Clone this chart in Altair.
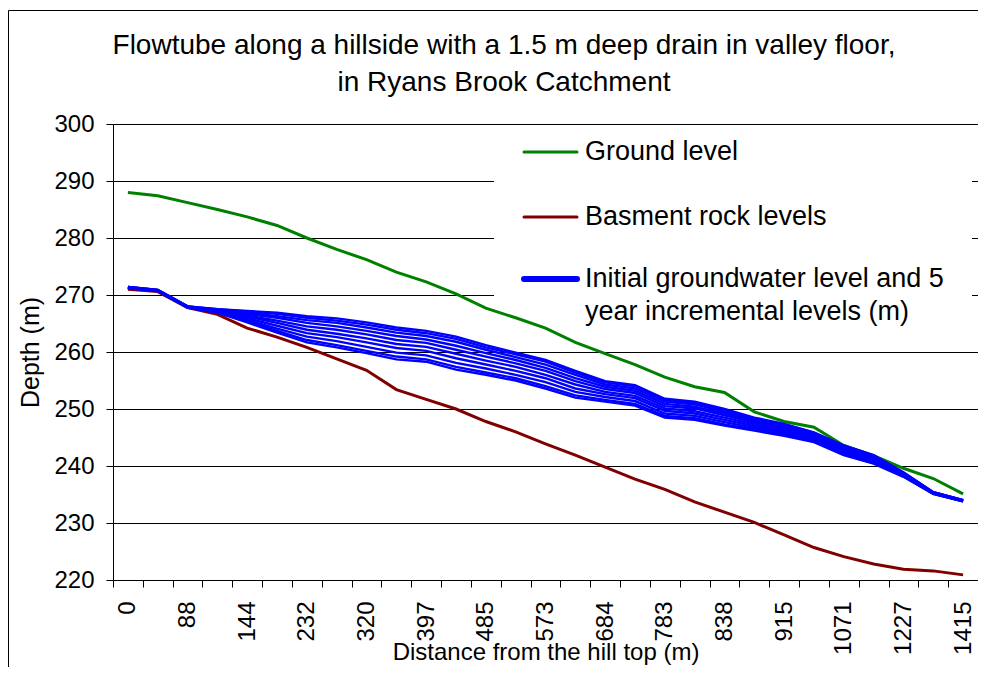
import altair as alt
import pandas as pd

# Distance from the hill top (m) for each node of the flowtube (categories)
distances = [0, 44, 88, 116, 144, 188, 232, 276, 320, 358, 397, 441, 485, 529, 573,
             628, 684, 733, 783, 810, 838, 876, 915, 993, 1071, 1149, 1227, 1321, 1415]
labelled = [0, 88, 144, 232, 320, 397, 485, 573, 684, 783, 838, 915, 1071, 1227, 1415]

ground = [288.0, 287.4, 286.2, 285.0, 283.7, 282.2, 280.0, 278.0, 276.2, 274.0, 272.3,
          270.2, 267.7, 266.0, 264.2, 261.7, 259.7, 257.8, 255.6, 253.9, 252.9, 249.5,
          247.8, 246.8, 243.6, 241.8, 239.6, 237.8, 235.1]
basement = [271.0, 270.6, 267.8, 266.6, 264.2, 262.6, 260.8, 258.8, 256.8, 253.4, 251.7,
            250.0, 247.8, 246.0, 243.9, 241.9, 239.8, 237.7, 235.9, 233.7, 231.9, 230.1,
            227.9, 225.7, 224.1, 222.8, 221.9, 221.6, 220.9]

# groundwater: initial level and 5-year incremental levels
gw_year00 = [271.4, 270.9, 268.0, 267.5, 267.2, 266.9, 266.3, 265.9, 265.2, 264.3, 263.7, 262.7, 261.2, 259.9, 258.6,
             256.7, 254.9, 254.2, 251.8, 251.3, 250.0, 248.5, 247.4, 245.9, 243.6, 241.9, 238.9, 235.4, 234.0]
gw_year05 = [271.4, 270.9, 268.0, 267.5, 267.1, 266.7, 266.0, 265.5, 264.8, 263.9, 263.3, 262.3, 260.8, 259.6, 258.3,
             256.4, 254.7, 254.0, 251.6, 251.1, 249.8, 248.3, 247.3, 245.8, 243.5, 241.8, 238.8, 235.4, 234.0]
gw_year10 = [271.4, 270.9, 268.0, 267.4, 266.9, 266.3, 265.6, 265.1, 264.3, 263.4, 262.8, 261.8, 260.4, 259.1, 257.8,
             256.0, 254.3, 253.6, 251.3, 250.8, 249.5, 248.1, 247.1, 245.6, 243.3, 241.7, 238.8, 235.4, 234.0]
gw_year15 = [271.3, 270.8, 267.9, 267.3, 266.7, 266.0, 265.1, 264.5, 263.7, 262.8, 262.2, 261.1, 259.8, 258.6, 257.2,
             255.4, 253.9, 253.2, 250.9, 250.4, 249.2, 247.9, 246.8, 245.4, 243.1, 241.5, 238.7, 235.3, 233.9]
gw_year20 = [271.3, 270.8, 267.9, 267.3, 266.4, 265.5, 264.5, 263.9, 263.1, 262.1, 261.6, 260.4, 259.2, 258.0, 256.7,
             254.9, 253.5, 252.8, 250.5, 250.1, 248.9, 247.6, 246.6, 245.2, 242.9, 241.3, 238.6, 235.3, 233.9]
gw_year25 = [271.3, 270.8, 267.9, 267.2, 266.2, 265.1, 263.9, 263.2, 262.4, 261.4, 260.9, 259.7, 258.5, 257.4, 256.0,
             254.3, 253.0, 252.3, 250.1, 249.6, 248.5, 247.3, 246.3, 245.0, 242.7, 241.1, 238.5, 235.2, 233.9]
gw_year30 = [271.3, 270.8, 267.9, 267.1, 265.9, 264.6, 263.3, 262.6, 261.7, 260.7, 260.2, 258.9, 257.8, 256.7, 255.4,
             253.6, 252.6, 251.9, 249.7, 249.2, 248.1, 247.0, 246.0, 244.8, 242.5, 240.9, 238.4, 235.2, 233.9]
gw_year35 = [271.2, 270.7, 267.8, 267.0, 265.6, 264.1, 262.7, 261.9, 260.9, 259.9, 259.4, 258.1, 257.1, 256.0, 254.7,
             253.0, 252.1, 251.4, 249.2, 248.8, 247.7, 246.7, 245.7, 244.6, 242.3, 240.7, 238.3, 235.2, 233.8]
gw_year40 = [271.2, 270.7, 267.8, 266.9, 265.4, 263.7, 262.1, 261.2, 260.2, 259.2, 258.7, 257.4, 256.4, 255.4, 254.0,
             252.4, 251.6, 250.9, 248.8, 248.4, 247.3, 246.4, 245.5, 244.3, 242.0, 240.5, 238.2, 235.1, 233.8]
gw_year45 = [271.2, 270.7, 267.8, 266.9, 265.2, 263.4, 261.7, 260.8, 259.8, 258.7, 258.3, 256.9, 256.0, 255.0, 253.6,
             252.0, 251.3, 250.6, 248.5, 248.1, 247.1, 246.2, 245.3, 244.2, 241.9, 240.4, 238.1, 235.1, 233.8]

gw_series = {"GW 0": gw_year00, "GW 5": gw_year05, "GW 10": gw_year10, "GW 15": gw_year15,
             "GW 20": gw_year20, "GW 25": gw_year25, "GW 30": gw_year30, "GW 35": gw_year35,
             "GW 40": gw_year40, "GW 45": gw_year45}

title_lines = ["Flowtube along a hillside with a 1.5 m deep drain in valley floor,",
               "in Ryans Brook Catchment"]

FONT = "Liberation Sans"
W, H = 865, 456

ground_df = pd.DataFrame({"dist": distances, "value": ground})
base_df = pd.DataFrame({"dist": distances, "value": basement})
gw_df = pd.concat([pd.DataFrame({"dist": distances, "value": v, "series": k})
                   for k, v in gw_series.items()], ignore_index=True)

label_expr = "indexof(" + str(labelled) + ", datum.value) >= 0 ? datum.label : ''"

x_enc = alt.X("dist:O", sort=None, bandPosition=0.5,
              scale=alt.Scale(type="band", domain=distances, paddingInner=0, paddingOuter=0),
              axis=alt.Axis(title="Distance from the hill top (m)", tickBand="extent",
                            labelAngle=-90, labelExpr=label_expr, labelPadding=14,
                            titleY=72, titleBaseline="middle", titleFontSize=24, grid=False))
y_enc = alt.Y("value:Q", scale=alt.Scale(domain=[220, 300], nice=False, zero=False),
              axis=alt.Axis(title="Depth (m)", values=list(range(220, 301, 10)),
                            grid=True, gridColor="black", gridWidth=1,
                            labelPadding=12, titlePadding=10))

one = alt.Data(values=[{}])

border_left = alt.Chart(one).mark_rule(color="black", strokeWidth=1).encode(
    x=alt.value(-104.5), y=alt.value(-113.5), y2=alt.value(H + 300))
border_top = alt.Chart(one).mark_rule(color="black", strokeWidth=1).encode(
    x=alt.value(-104.5), x2=alt.value(W + 4), y=alt.value(-113.5))

title_text = alt.Chart(one).mark_text(font=FONT, fontSize=28, align="center", baseline="middle",
                                      color="black", lineHeight=37).encode(
    x=alt.value(391), y=alt.value(-78), text=alt.value(title_lines))

legend_bg = alt.Chart(one).mark_rect(fill="white").encode(
    x=alt.value(381), x2=alt.value(W - 6), y=alt.value(1.5), y2=alt.value(176))

ground_line = alt.Chart(ground_df).mark_line(color="#008000", strokeWidth=3).encode(x=x_enc, y=y_enc)
base_line = alt.Chart(base_df).mark_line(color="#800000", strokeWidth=3).encode(x=x_enc, y=y_enc)
gw_lines = alt.Chart(gw_df).mark_line(color="#0000FF", strokeWidth=2.4).encode(
    x=x_enc, y=y_enc, detail="series:N")

def leg_rule(y, color, sw):
    return alt.Chart(one).mark_rule(color=color, strokeWidth=sw, strokeCap="round").encode(
        x=alt.value(411), x2=alt.value(464), y=alt.value(y))

def leg_text(y, txt, baseline="middle"):
    return alt.Chart(one).mark_text(font=FONT, fontSize=27, align="left", baseline=baseline,
                                    color="black", lineHeight=33).encode(
        x=alt.value(472), y=alt.value(y), text=alt.value(txt))

legend = [
    leg_rule(28, "#008000", 3), leg_text(28, "Ground level"),
    leg_rule(93, "#800000", 3), leg_text(93, "Basment rock levels"),
    leg_rule(155, "#0000FF", 6),
    leg_text(142, ["Initial groundwater level and 5", "year incremental levels (m)"], "top"),
]

chart = alt.layer(border_left, border_top, title_text, legend_bg,
                  ground_line, base_line, gw_lines, *legend).properties(
    width=W, height=H,
    autosize="none",
    background="white",
    padding={"left": 105, "top": 116, "right": 0, "bottom": 87},
).configure_view(stroke="#808080", strokeWidth=1).configure_axis(
    labelFont=FONT, labelFontSize=24, labelColor="black",
    titleFont=FONT, titleFontSize=25, titleFontWeight="normal", titleColor="black",
    tickColor="black", tickSize=7, domainColor="black", domainWidth=1,
)

chart.save("out.html", embed_options={"renderer": "svg", "actions": False})
